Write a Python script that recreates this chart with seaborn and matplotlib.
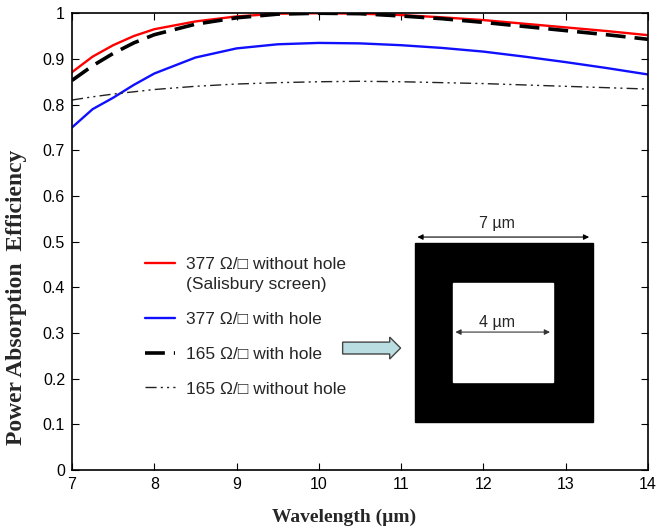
import numpy as np
import pandas as pd
import matplotlib
matplotlib.use("Agg")
import matplotlib.pyplot as plt
import seaborn as sns
from matplotlib.lines import Line2D
from matplotlib.patches import Rectangle, FancyArrow

sns.set_theme(style="ticks")
plt.rcParams['font.family'] = ['Liberation Sans', 'DejaVu Sans']

wavelength = [7.0, 7.25, 7.5, 7.75, 8.0, 8.5, 9.0, 9.5, 10.0, 10.5, 11.0, 11.5, 12.0, 12.5, 13.0, 13.5, 14.0]
red_377_nohole = [0.871, 0.905, 0.930, 0.950, 0.965, 0.982, 0.993, 0.999, 1.000, 0.999, 0.996, 0.991, 0.985, 0.977, 0.969, 0.961, 0.952]
blue_377_hole = [0.750, 0.790, 0.815, 0.843, 0.868, 0.903, 0.923, 0.932, 0.935, 0.934, 0.930, 0.924, 0.916, 0.905, 0.893, 0.880, 0.866]
dash_165_hole = [0.853, 0.885, 0.912, 0.935, 0.953, 0.976, 0.990, 0.998, 1.000, 0.999, 0.994, 0.988, 0.980, 0.971, 0.962, 0.953, 0.943]
dot_165_nohole = [0.810, 0.817, 0.823, 0.828, 0.833, 0.840, 0.845, 0.848, 0.850, 0.851, 0.850, 0.848, 0.846, 0.843, 0.840, 0.837, 0.834]

label_red = "377 \u03a9/\u25a1 without hole"
label_red2 = "(Salisbury screen)"
label_blue = "377 \u03a9/\u25a1 with hole"
label_dash = "165 \u03a9/\u25a1 with hole"
label_dot = "165 \u03a9/\u25a1 without hole"

df = pd.DataFrame({"wl": wavelength, "red": red_377_nohole, "blue": blue_377_hole,
                   "dash": dash_165_hole, "dot": dot_165_nohole})

fig = plt.figure(figsize=(6.61, 5.29), dpi=100)
ax = fig.add_axes([0.109, 0.1115, 0.871, 0.8635])

sns.lineplot(data=df, x="wl", y="red", ax=ax, color="#ff0000", lw=1.7, legend=False)
sns.lineplot(data=df, x="wl", y="blue", ax=ax, color="#1010ff", lw=1.7, legend=False)
sns.lineplot(data=df, x="wl", y="dash", ax=ax, color="black", lw=2.6, legend=False)
ax.lines[-1].set_dashes([5.5, 2.5])
sns.lineplot(data=df, x="wl", y="dot", ax=ax, color="#222222", lw=1.0, legend=False)
ax.lines[-1].set_dashes([8, 3, 1.5, 3, 1.5, 3])

ax.set_xlim(7, 14)
ax.set_ylim(0, 1)
ax.set_xticks(range(7, 15))
ax.set_yticks(np.arange(0, 1.01, 0.1))
ax.yaxis.set_major_formatter(matplotlib.ticker.FormatStrFormatter('%g'))
ax.xaxis.set_major_formatter(matplotlib.ticker.FormatStrFormatter('%g'))
ax.tick_params(direction="in", top=True, right=True, length=5, width=0.8,
               labelsize=11.5, colors="black", pad=5)
for s in ax.spines.values():
    s.set_linewidth(1.2)
    s.set_color("black")

ax.set_xlabel("Wavelength (\u00b5m)", family="Liberation Serif", fontweight="bold", fontsize=14)
ax.set_ylabel("Power Absorption  Efficiency", family="Liberation Serif", fontweight="bold", fontsize=17)
ax.xaxis.set_label_coords(0.472, -0.085)
ax.yaxis.set_label_coords(-0.078, 0.379)

# legend
leg_kw = dict(loc="upper left", frameon=False, fontsize=12.5, handlelength=1.73,
              handletextpad=0.63, borderpad=0, borderaxespad=0)
hA = [Line2D([], [], color="#ff0000", lw=1.7), Line2D([], [], color="none")]
legA = ax.legend(hA, [label_red, label_red2], bbox_to_anchor=(0.1267, 0.4672),
                 labelspacing=0.29, **leg_kw)
ax.add_artist(legA)
hB = [Line2D([], [], color="#1010ff", lw=1.7),
      Line2D([], [], color="black", lw=2.6, dashes=[5.5, 2.5]),
      Line2D([], [], color="#222222", lw=1.0, dashes=[8, 3, 1.5, 3, 1.5, 3])]
ax.legend(hB, [label_blue, label_dash, label_dot], bbox_to_anchor=(0.1267, 0.3455),
          labelspacing=1.12, **leg_kw)

# inset illustration
ax.add_patch(Rectangle((0.595, 0.105), 0.31, 0.392, transform=ax.transAxes,
                       facecolor="black", edgecolor="black"))
ax.add_patch(Rectangle((0.661, 0.193), 0.174, 0.216, transform=ax.transAxes,
                       facecolor="white", edgecolor="white"))
ax.annotate("", xy=(0.595, 0.510), xytext=(0.903, 0.510), xycoords="axes fraction",
            arrowprops=dict(arrowstyle="<|-|>", color="black", lw=0.8, mutation_scale=8))
ax.text(0.738, 0.540, "7 \u00b5m", transform=ax.transAxes, ha="center", va="center", fontsize=11.5)
ax.annotate("", xy=(0.661, 0.302), xytext=(0.835, 0.302), xycoords="axes fraction",
            arrowprops=dict(arrowstyle="<|-|>", color="#333333", lw=0.8, mutation_scale=8))
ax.text(0.738, 0.324, "4 \u00b5m", transform=ax.transAxes, ha="center", va="center", fontsize=11.5)
ax.add_patch(FancyArrow(0.470, 0.267, 0.1007, 0, width=0.026, head_width=0.048,
                        head_length=0.019, length_includes_head=True,
                        transform=ax.transAxes, facecolor="#b9dde0", edgecolor="#444444", lw=1))

fig.savefig("out.png", dpi=100)
